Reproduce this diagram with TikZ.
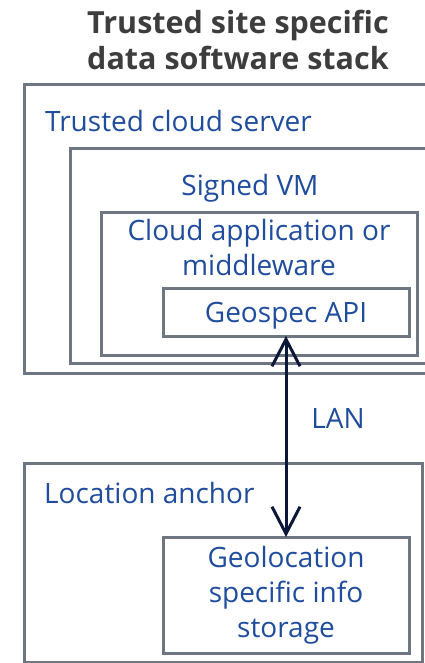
\documentclass[tikz,border=0pt]{standalone}
\usepackage{fontspec}
\setmainfont{Open Sans}
\usetikzlibrary{arrows.meta}
\definecolor{boxgray}{HTML}{6E7781}
\definecolor{labelblue}{HTML}{1F4C9C}
\definecolor{titlegray}{HTML}{3D3D3D}
\definecolor{linknavy}{HTML}{0B1638}
\begin{document}
\begin{tikzpicture}[x=1pt, y=-1pt,
  frame/.style={draw=boxgray, line width=3pt, anchor=north west,
    inner sep=0pt, outer sep=0pt},
  lbl/.style={text=labelblue, font=\fontsize{28}{35}\selectfont, inner sep=0pt},
  heading/.style={text=titlegray, font=\fontsize{30.5}{36.5}\selectfont\bfseries,
    inner sep=0pt, align=center},
  link/.style={draw=linknavy, line width=3pt,
    {Straight Barb[length=27pt, width=28pt]}-{Straight Barb[length=27pt, width=28pt]}}]
\useasboundingbox (0,0) rectangle (425,663);

% title
\node[heading] (title) at (238,40) {Trusted site specific\\data software stack};

% cloud side: nested frames
\node[frame, minimum width=430pt, minimum height=288pt] (server) at (24,85) {};
\node[frame, minimum width=380pt, minimum height=214pt] (vm) at (70,149) {};
\node[frame, minimum width=316pt, minimum height=143pt] (app) at (101,212) {};
\node[frame, minimum width=246pt, minimum height=48pt] (api) at (163,288) {};

% local side
\node[frame, minimum width=398pt, minimum height=199pt] (anchorbox) at (24,463) {};
\node[frame, minimum width=246pt, minimum height=116pt] (storage) at (163,537) {};

% labels
\node[lbl, anchor=base west] (serverlbl) at (45,132) {Trusted cloud server};
\node[lbl, anchor=base] (vmlbl) at (250,195) {Signed VM};
\node[lbl, align=center] (applbl) at (259,247) {Cloud application or\\middleware};
\node[lbl, anchor=base] (apilbl) at (286,322) {Geospec API};
\node[lbl, anchor=base west] (anchorlbl) at (44,503) {Location anchor};
\node[lbl, align=center] (storagelbl) at (286,595) {Geolocation\\specific info\\storage};

% network link
\draw[link] (api.south) -- (storage.north);
\node[lbl, anchor=base] (lan) at (338,428) {LAN};
\end{tikzpicture}
\end{document}
